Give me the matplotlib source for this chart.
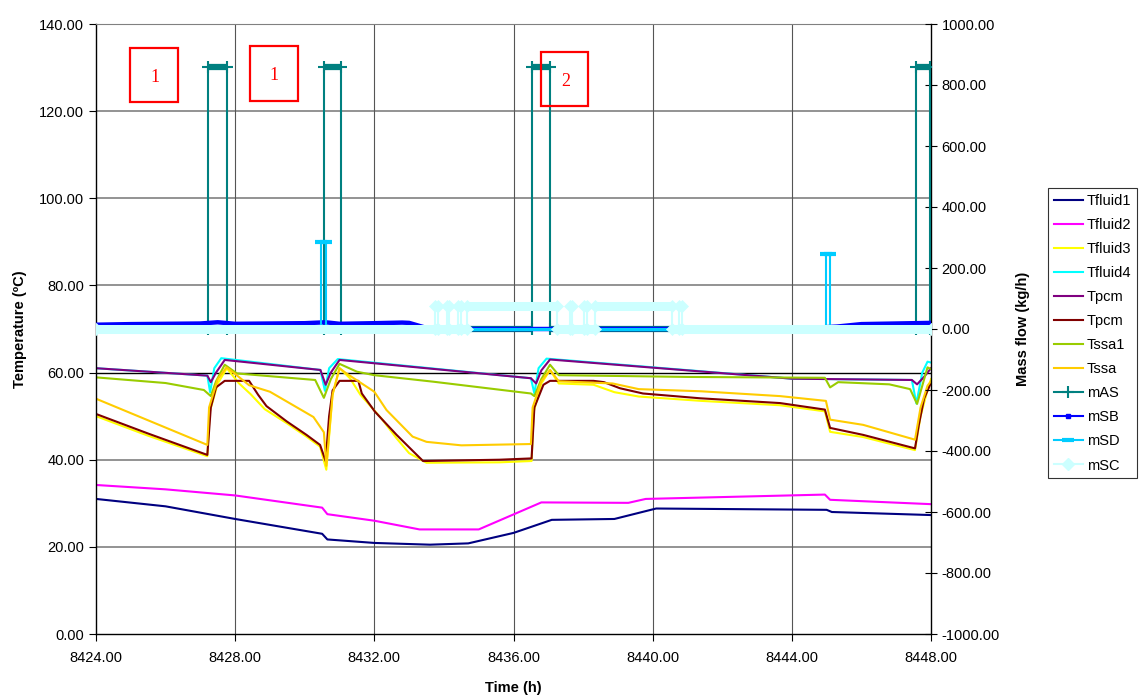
import numpy as np
import matplotlib
matplotlib.use("Agg")
import matplotlib.pyplot as plt
from matplotlib.lines import Line2D
from matplotlib.patches import Rectangle
from matplotlib.ticker import FormatStrFormatter

plt.rcParams['font.family'] = ['Liberation Sans', 'DejaVu Sans']

# ---------------- temperature series (time in h, value in ºC) ----------------
tfluid1_t = [8424, 8426, 8428, 8430.5, 8430.65, 8432, 8433.6, 8434.7, 8436, 8437.1,
             8438.9, 8440.1, 8445.0, 8445.15, 8448]
tfluid1_v = [31.0, 29.3, 26.4, 23.0, 21.7, 20.9, 20.5, 20.8, 23.2, 26.2,
             26.4, 28.8, 28.5, 28.0, 27.3]

tfluid2_t = [8424, 8426, 8428, 8430.5, 8430.65, 8432, 8433.3, 8435.0, 8436.8, 8439.3,
             8439.8, 8444.95, 8445.1, 8448]
tfluid2_v = [34.2, 33.2, 31.8, 29.0, 27.5, 26.0, 24.0, 24.0, 30.2, 30.1,
             31.0, 32.0, 30.8, 29.8]

tfluid3_t = [8424, 8425.5, 8427.2, 8427.27, 8427.5, 8427.76, 8428.1, 8428.45, 8428.85,
             8429.48, 8430.05, 8430.44, 8430.62, 8430.8, 8431.0, 8431.3, 8431.6, 8432.2,
             8432.64, 8433.0, 8433.5, 8435.6, 8436.52, 8436.58, 8436.8, 8437.05, 8437.3,
             8438.3, 8438.9, 8439.6, 8441.4, 8443.66, 8444.95, 8445.1, 8446.05, 8447.54,
             8447.7, 8447.9, 8448]
tfluid3_v = [50.0, 45.5, 40.8, 51.0, 57.5, 61.0, 57.6, 55.0, 51.6,
             48.4, 45.3, 43.0, 37.7, 55.0, 61.0, 58.7, 54.9, 49.5,
             44.9, 41.5, 39.3, 39.4, 39.7, 51.0, 57.5, 60.6, 57.5,
             57.2, 55.5, 54.5, 53.5, 52.5, 51.1, 46.4, 45.2, 42.2,
             50.0, 56.0, 58.5]

tfluid4_t = [8424, 8427.2, 8427.28, 8427.4, 8427.6, 8430.45, 8430.58, 8430.7, 8430.95,
             8436.5, 8436.6, 8436.72, 8436.95, 8444, 8447.45, 8447.58, 8447.75, 8447.9, 8448]
tfluid4_v = [61.0, 59.3, 55.5, 61.0, 63.3, 60.6, 55.8, 61.0, 63.1,
             58.7, 55.2, 61.0, 63.2, 58.6, 58.3, 52.9, 60.0, 62.5, 62.3]

tpcm_t = [8424, 8427.2, 8427.3, 8427.45, 8427.7, 8430.45, 8430.6, 8430.75, 8431.0,
          8436.5, 8436.65, 8436.8, 8437.05, 8444, 8447.45, 8447.6, 8447.8, 8448]
tpcm_v = [61.0, 59.3, 57.8, 60.0, 62.9, 60.6, 57.2, 60.0, 62.9,
          58.7, 57.5, 60.5, 63.0, 58.6, 58.3, 57.3, 59.0, 61.0]

tpcm2_t = [8424, 8425.5, 8427.2, 8427.3, 8427.45, 8427.7, 8428.4, 8428.66, 8428.9, 8429.48,
           8430.05, 8430.44, 8430.6, 8430.7, 8430.8, 8431.0, 8431.54, 8431.64, 8432.02,
           8432.64, 8433.12, 8433.4, 8435.6, 8436.52, 8436.6, 8436.86, 8437.05, 8438.3,
           8438.6, 8439.06, 8439.72, 8441.36, 8443.66, 8444.95, 8445.1, 8446.05, 8447.54,
           8447.65, 8447.8, 8448]
tpcm2_v = [50.5, 46.0, 41.1, 52.0, 56.6, 58.1, 58.1, 54.9, 52.3, 48.8,
           45.7, 43.4, 39.7, 50.0, 55.9, 58.1, 58.1, 55.2, 51.0,
           45.7, 41.9, 39.7, 40.0, 40.3, 52.0, 57.2, 58.1, 58.1,
           57.8, 56.4, 55.2, 54.1, 53.0, 51.5, 47.3, 45.7, 42.6,
           48.0, 54.0, 57.7]

tssa1_t = [8424, 8426, 8427.1, 8427.3, 8427.45, 8427.7, 8428.05, 8430.3, 8430.55, 8430.75,
           8431.0, 8431.5, 8432.0, 8433.7, 8436.5, 8436.6, 8436.8, 8437.05, 8437.3, 8441,
           8444.95, 8445.1, 8445.33, 8446.8, 8447.4, 8447.6, 8447.9, 8448]
tssa1_v = [58.9, 57.6, 56.0, 54.6, 58.0, 61.8, 59.8, 58.3, 54.2, 58.5,
           62.0, 60.2, 59.4, 57.9, 55.2, 54.6, 58.5, 61.8, 59.4, 59.0,
           58.8, 56.6, 57.8, 57.3, 56.2, 52.8, 61.2, 60.8]

tssa_t = [8424, 8427.2, 8427.25, 8427.5, 8427.75, 8427.95, 8428.4, 8429.0, 8430.25,
          8430.55, 8430.62, 8430.8, 8431.0, 8431.2, 8432.0, 8432.35, 8433.1, 8433.5,
          8434.5, 8436.5, 8436.55, 8436.8, 8437.05, 8437.3, 8438.85, 8439.6, 8441.4,
          8443.66, 8444.98, 8445.1, 8446.05, 8447.54, 8447.7, 8447.9, 8448]
tssa_v = [54.0, 43.4, 52.0, 58.5, 61.2, 60.0, 57.1, 55.6, 49.8,
          46.3, 38.6, 55.0, 61.0, 59.8, 55.6, 51.4, 45.3, 44.1,
          43.3, 43.6, 52.0, 58.0, 60.6, 58.0, 57.5, 56.2, 55.7,
          54.6, 53.5, 49.2, 48.0, 44.6, 52.0, 57.0, 58.0]

# ---------------- mass flow series (time in h, value in kg/h) ----------------
mas_t = [8424, 8427.22, 8427.22, 8427.76, 8427.76, 8430.55, 8430.55, 8431.04, 8431.04,
         8436.53, 8436.53, 8437.05, 8437.05, 8447.56, 8447.56, 8447.97, 8447.97, 8448]
mas_v = [0, 0, 860, 860, 0, 0, 860, 860, 0, 0, 860, 860, 0, 0, 860, 860, 0, 0]

msb_t = [8424, 8425, 8426, 8427, 8427.5, 8428, 8429, 8430, 8430.6, 8431, 8432, 8432.8,
         8433.0, 8433.6, 8444.0, 8445.3, 8446.0, 8447.0, 8448]
msb_v = [14, 16, 17, 18, 22, 17, 18, 19, 22, 17, 19, 21, 20, 0, 0, 8, 16, 18, 20]

msd_t = [8424, 8430.47, 8430.47, 8430.6, 8430.6, 8444.98, 8444.98, 8445.1, 8445.1, 8448]
msd_v = [0, 0, 285, 285, 0, 0, 245, 245, 0, 0]

msc_t = [8424, 8433.75, 8433.75, 8433.83, 8433.83, 8434.08, 8434.08, 8434.16, 8434.16,
         8434.40, 8434.40, 8434.48, 8434.48, 8434.65, 8434.65, 8437.24, 8437.24,
         8437.61, 8437.61, 8437.69, 8437.69, 8438.02, 8438.02, 8438.10, 8438.10,
         8438.34, 8438.34, 8440.55, 8440.55, 8440.75, 8440.75, 8440.83, 8440.83, 8448]
msc_v = [0, 0, 75, 75, 0, 0, 75, 75, 0,
         0, 75, 75, 0, 0, 75, 75, 0,
         0, 75, 75, 0, 0, 75, 75, 0,
         0, 75, 75, 0, 0, 75, 75, 0, 0]

x_ticks = [8424, 8428, 8432, 8436, 8440, 8444, 8448]
temp_ticks = [0, 20, 40, 60, 80, 100, 120, 140]
flow_ticks = [-1000, -800, -600, -400, -200, 0, 200, 400, 600, 800, 1000]

# ---------------- figure ----------------
W, H = 1140, 695
fig = plt.figure(figsize=(W / 100, H / 100), dpi=100)
ax = fig.add_axes([96 / W, 1 - 634 / H, 835 / W, 610 / H])
ax.set_xlim(8424, 8448)
ax.set_ylim(0, 140)

# grid
for y in temp_ticks[1:]:
    if y == 60:
        continue
    ax.axhline(y, color='#808080', lw=1.2, zorder=0.5)
ax.axhline(60, color='black', lw=1.0, zorder=0.6)
for x in x_ticks[1:-1]:
    ax.axvline(x, color='#555555', lw=0.8, zorder=0.5)

temp_series = [
    ('Tfluid1', tfluid1_t, tfluid1_v, '#000080'),
    ('Tfluid2', tfluid2_t, tfluid2_v, '#FF00FF'),
    ('Tfluid3', tfluid3_t, tfluid3_v, '#FFFF00'),
    ('Tfluid4', tfluid4_t, tfluid4_v, '#00FFFF'),
    ('Tpcm', tpcm_t, tpcm_v, '#800080'),
    ('Tpcm', tpcm2_t, tpcm2_v, '#800000'),
    ('Tssa1', tssa1_t, tssa1_v, '#99CC00'),
    ('Tssa', tssa_t, tssa_v, '#FFCC00'),
]
handles = []
for name, t, v, c in temp_series:
    ln, = ax.plot(t, v, color=c, lw=1.5, label=name, zorder=2)
    handles.append(ln)

ax.set_xticks(x_ticks)
ax.set_yticks(temp_ticks)
ax.xaxis.set_major_formatter(FormatStrFormatter('%.2f'))
ax.yaxis.set_major_formatter(FormatStrFormatter('%.2f'))
ax.tick_params(axis='both', labelsize=10.5, direction='out', length=5, width=0.8,
               colors='black')
ax.tick_params(axis='x', pad=7)
ax.spines['top'].set_color('#808080')
ax.spines['right'].set_visible(False)
for s in ('left', 'bottom'):
    ax.spines[s].set_linewidth(1.0)

ax.set_xlabel('Time (h)', fontsize=10.5, fontweight='bold')
ax.set_ylabel('Temperature (ºC)', fontsize=10.5, fontweight='bold')
ax.xaxis.set_label_coords(0.5, (634 - 681) / 610)
ax.yaxis.set_label_coords((27 - 96) / 835, 0.5)

# secondary axis: mass flows
ax2 = ax.twinx()
ax2.set_ylim(-1000, 1000)
ax2.set_yticks(flow_ticks)
ax2.yaxis.set_major_formatter(FormatStrFormatter('%.2f'))
ax2.tick_params(axis='y', labelsize=10.5, direction='inout', length=8, width=0.8)
for s in ('top', 'left', 'bottom'):
    ax2.spines[s].set_visible(False)
ax2.spines['right'].set_linewidth(1.0)
ax2.set_ylabel('Mass flow (kg/h)', fontsize=10.5, fontweight='bold')
ax2.yaxis.set_label_coords((1016 - 96) / 835, 0.5)


def flat_runs(t, v):
    runs = []
    for i in range(len(t) - 1):
        if v[i] == v[i + 1] and t[i + 1] > t[i]:
            runs.append((v[i], t[i], t[i + 1]))
    return runs


def draw_flow(t, v, color, thin, band, marker, msize, mew, z):
    ax2.plot(t, v, color=color, lw=thin, zorder=z)
    runs = flat_runs(t, v)
    if runs and band > 0:
        ax2.hlines([r[0] for r in runs], [r[1] for r in runs], [r[2] for r in runs],
                   colors=color, lw=band, zorder=z)
    if marker:
        ax2.plot(t, v, ls='none', marker=marker, ms=msize, mew=mew, color=color,
                 mec=color, zorder=z)


draw_flow(mas_t, mas_v, '#008080', 1.5, 4.5, '+', 8, 1.5, 3)
ax2.plot(msb_t, msb_v, color='#0000FF', lw=3.2, zorder=3.1)
draw_flow(msd_t, msd_v, '#00CCFF', 1.5, 2.2, '_', 9, 3, 3.2)
draw_flow(msc_t, msc_v, '#CCFFFF', 1.5, 6.5, 'D', 6, 0.5, 3.3)

handles += [
    Line2D([], [], color='#008080', lw=1.5, marker='+', ms=8, mew=1.5, label='mAS'),
    Line2D([], [], color='#0000FF', lw=1.5, marker='s', ms=3, label='mSB'),
    Line2D([], [], color='#00CCFF', lw=1.5, marker='_', ms=8, mew=3, label='mSD'),
    Line2D([], [], color='#CCFFFF', lw=1.5, marker='D', ms=6, label='mSC'),
]

leg = fig.legend(handles=handles, loc='upper left',
                 bbox_to_anchor=(1048 / W, 1 - 188 / H), borderaxespad=0,
                 fontsize=10.5, frameon=True, fancybox=False, edgecolor='black',
                 handlelength=2.0, handletextpad=0.25, labelspacing=0.69,
                 borderpad=0.4)
leg.get_frame().set_linewidth(0.8)

# red note boxes
for (x0, y0, x1, y1, txt, tx, ty) in [(130, 48, 178, 102, '1', 155, 78),
                                       (250, 46, 298, 101, '1', 274, 76),
                                       (541, 52, 588, 106, '2', 566, 82)]:
    fig.patches.append(Rectangle((x0 / W, 1 - y1 / H), (x1 - x0) / W, (y1 - y0) / H,
                                 transform=fig.transFigure, fill=False,
                                 edgecolor='red', lw=1.6, zorder=5))
    fig.text(tx / W, 1 - ty / H, txt, color='red', fontsize=13,
             family='Liberation Serif', ha='center', va='center', zorder=5)

fig.savefig('out.png', dpi=100)
